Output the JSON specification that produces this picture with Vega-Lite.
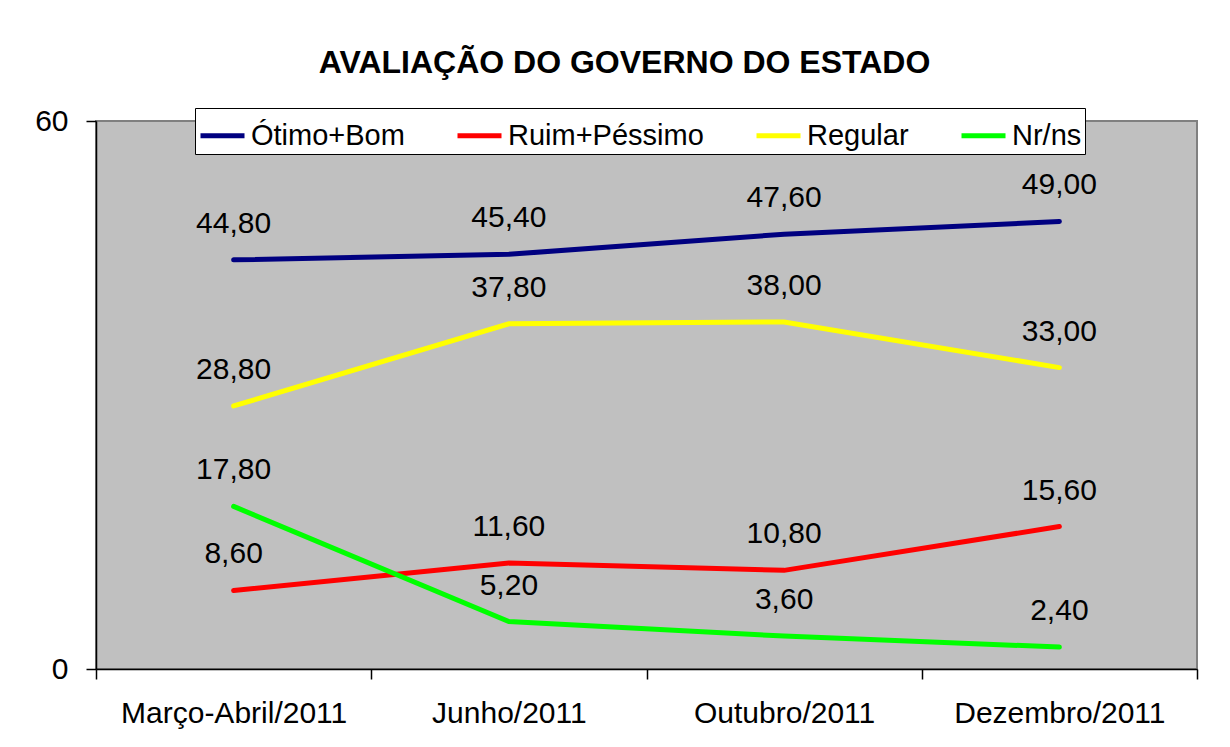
{
  "$schema": "https://vega.github.io/schema/vega-lite/v6.json",
  "width": 1101,
  "height": 548,
  "autosize": {"type": "none"},
  "padding": {"left": 96, "top": 121, "right": 33, "bottom": 78},
  "background": "white",
  "config": {
    "font": "Liberation Sans",
    "locale": {"number": {"decimal": ",", "thousands": ".", "grouping": [3], "currency": ["R$", ""]}},
    "view": {"fill": "#C0C0C0", "stroke": "#808080", "strokeWidth": 2}
  },
  "title": {
    "text": "AVALIAÇÃO DO GOVERNO DO ESTADO",
    "fontSize": 32,
    "fontWeight": "bold",
    "font": "Liberation Sans",
    "color": "black",
    "anchor": "middle",
    "dx": -22,
    "offset": 26
  },
  "data": {
    "values": [
      {"periodo": "Março-Abril/2011", "serie": "Ótimo+Bom", "valor": 44.8},
      {"periodo": "Junho/2011", "serie": "Ótimo+Bom", "valor": 45.4},
      {"periodo": "Outubro/2011", "serie": "Ótimo+Bom", "valor": 47.6},
      {"periodo": "Dezembro/2011", "serie": "Ótimo+Bom", "valor": 49.0},
      {"periodo": "Março-Abril/2011", "serie": "Ruim+Péssimo", "valor": 8.6},
      {"periodo": "Junho/2011", "serie": "Ruim+Péssimo", "valor": 11.6},
      {"periodo": "Outubro/2011", "serie": "Ruim+Péssimo", "valor": 10.8},
      {"periodo": "Dezembro/2011", "serie": "Ruim+Péssimo", "valor": 15.6},
      {"periodo": "Março-Abril/2011", "serie": "Regular", "valor": 28.8},
      {"periodo": "Junho/2011", "serie": "Regular", "valor": 37.8},
      {"periodo": "Outubro/2011", "serie": "Regular", "valor": 38.0},
      {"periodo": "Dezembro/2011", "serie": "Regular", "valor": 33.0},
      {"periodo": "Março-Abril/2011", "serie": "Nr/ns", "valor": 17.8},
      {"periodo": "Junho/2011", "serie": "Nr/ns", "valor": 5.2},
      {"periodo": "Outubro/2011", "serie": "Nr/ns", "valor": 3.6},
      {"periodo": "Dezembro/2011", "serie": "Nr/ns", "valor": 2.4}
    ]
  },
  "encoding": {
    "x": {
      "field": "periodo",
      "type": "nominal",
      "sort": ["Março-Abril/2011", "Junho/2011", "Outubro/2011", "Dezembro/2011"],
      "scale": {"type": "band", "paddingInner": 0, "paddingOuter": 0},
      "axis": {
        "title": null,
        "labelAngle": 0,
        "labelFontSize": 30,
        "labelColor": "black",
        "labelPadding": 19,
        "tickBand": "extent",
        "tickSize": 10,
        "tickColor": "black",
        "tickWidth": 1.5,
        "domainColor": "black",
        "domainWidth": 1.5,
        "grid": false,
        "labelLimit": 400
      }
    },
    "y": {
      "field": "valor",
      "type": "quantitative",
      "scale": {"domain": [0, 60], "nice": false},
      "axis": {
        "title": null,
        "values": [0, 60],
        "labelFontSize": 30,
        "labelColor": "black",
        "labelPadding": 18,
        "tickSize": 10,
        "tickColor": "black",
        "tickWidth": 1.5,
        "domainColor": "black",
        "domainWidth": 1.5,
        "grid": false
      }
    },
    "color": {
      "field": "serie",
      "type": "nominal",
      "scale": {
        "domain": ["Ótimo+Bom", "Ruim+Péssimo", "Regular", "Nr/ns"],
        "range": ["#000080", "#FF0000", "#FFFF00", "#00FF00"]
      },
      "legend": {
        "title": null,
        "orient": "none",
        "legendX": 99,
        "legendY": -13,
        "direction": "horizontal",
        "columns": 4,
        "symbolType": "stroke",
        "symbolStrokeWidth": 5,
        "symbolSize": 1936,
        "labelFontSize": 29,
        "labelColor": "black",
        "labelOffset": 4,
        "labelLimit": 400,
        "columnPadding": 42,
        "padding": 3,
        "fillColor": "white",
        "strokeColor": "black"
      }
    }
  },
  "layer": [
    {"mark": {"type": "line", "strokeWidth": 5, "strokeCap": "round"}},
    {
      "mark": {"type": "text", "fontSize": 30, "baseline": "alphabetic", "dy": -27},
      "encoding": {
        "text": {"field": "valor", "type": "quantitative", "format": ".2f"},
        "color": {"value": "black"}
      }
    }
  ]
}
